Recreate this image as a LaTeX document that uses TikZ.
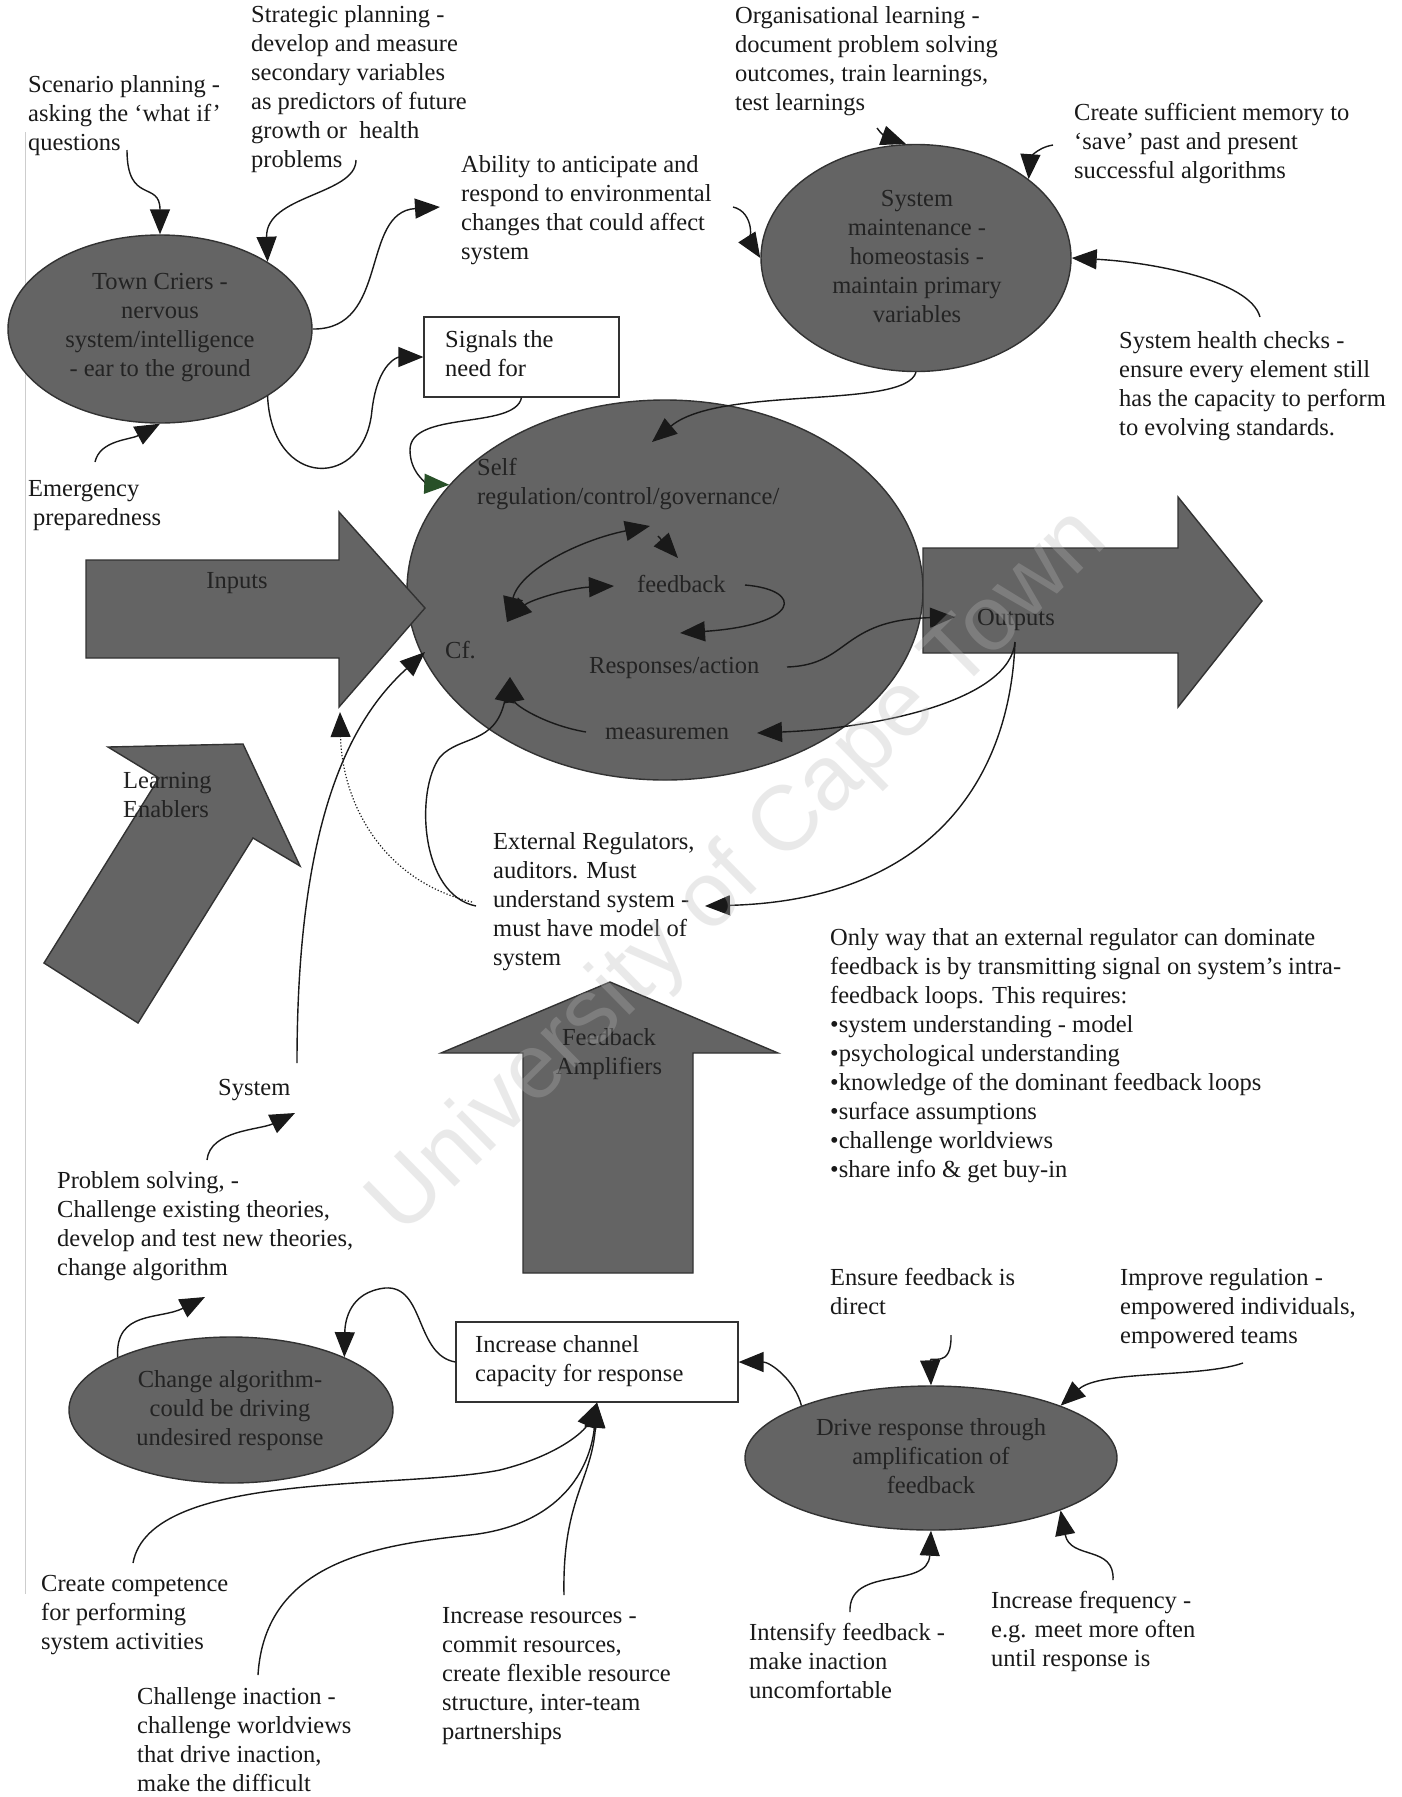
\documentclass[tikz,border=0pt]{standalone}
\usepackage{fontspec}
\setmainfont{Liberation Serif}
\newfontfamily\wmfont{Liberation Sans}
\usetikzlibrary{arrows.meta,shapes.geometric}

\definecolor{ink}{RGB}{25,25,25}
\definecolor{shade}{RGB}{100,100,100}
\definecolor{rim}{RGB}{50,50,50}
\definecolor{deep}{RGB}{35,35,35}
\definecolor{wm}{RGB}{185,185,185}
\definecolor{pageedge}{RGB}{205,205,205}
\definecolor{tipgreen}{RGB}{40,80,40}

\tikzset{
  txt/.style={anchor=north west, inner sep=0pt, align=left, text=ink,
    font=\fontsize{24.5}{29}\selectfont, execute at begin node=\strut},
  intxt/.style={anchor=north, inner sep=0pt, align=center, text=deep,
    font=\fontsize{24.5}{29}\selectfont, execute at begin node=\strut},
  blob/.style={ellipse, draw=rim, line width=1.4pt, fill=shade, inner sep=0pt},
  panel/.style={rectangle, draw=rim, line width=1.2pt, fill=white, inner sep=0pt},
  block/.style={draw=rim, line width=1.4pt, fill=shade, line join=miter},
  conn/.style={draw=ink, line width=1.4pt, -{Triangle[length=25pt,width=20pt]}},
  twoway/.style={draw=ink, line width=1.4pt, {Triangle[length=25pt,width=20pt]}-{Triangle[length=25pt,width=20pt]}},
}

\begin{document}
\begin{tikzpicture}[x=1pt, y=-1pt]
\useasboundingbox (0,0) rectangle (1402,1797);
\clip (0,0) rectangle (1402,1797);
\fill[white] (0,0) rectangle (1402,1797);

% faint page edge on the left
\draw[pageedge, line width=1pt] (25,132) -- (25,1594);

% ---------- shaded shapes ----------
\node[blob, minimum width=304pt, minimum height=188pt] (tc) at (160,329) {};
\node[blob, minimum width=310pt, minimum height=227pt] (sm) at (916,258) {};
\node[blob, minimum width=516pt, minimum height=380pt] (core) at (665,590) {};
\node[blob, minimum width=324pt, minimum height=146pt] (chg) at (231,1410) {};
\node[blob, minimum width=372pt, minimum height=144pt] (drv) at (931,1458) {};

% block arrows
\draw[block] (86,560) -- (339,560) -- (339,512) -- (425,608) -- (339,707) -- (339,658) -- (86,658) -- cycle;
\draw[block] (923,548) -- (1178,548) -- (1178,497) -- (1262,601) -- (1178,707) -- (1178,653) -- (923,653) -- cycle;
\draw[block] (108,747) -- (243,744) -- (300,866) -- (253,838) -- (138,1023) -- (44,963) -- (159,778) -- cycle;
\draw[block] (523,1273) -- (523,1053) -- (441,1053) -- (610,982) -- (778,1053) -- (693,1053) -- (693,1273) -- cycle;

% boxes
\node[panel, minimum width=195pt, minimum height=80pt] (sig) at (521.5,357) {};
\node[panel, minimum width=282pt, minimum height=80pt] (chan) at (597,1362) {};

% ---------- texts in shapes ----------
\node[intxt] (tct) at (160,273) {Town Criers -\\nervous\\system/intelligence\\- ear to the ground};
\node[intxt] (smt) at (917,190) {System\\maintenance -\\homeostasis -\\maintain primary\\variables};
\node[intxt] (chgt) at (230,1370) {Change algorithm-\\could be driving\\undesired response};
\node[intxt] (drvt) at (931,1418) {Drive response through\\amplification of\\feedback};
\node[intxt] (inp) at (237,568) {Inputs};
\node[txt, text=deep] (outp) at (977,605) {Outputs};
\node[txt, text=deep] (lrn) at (123,772) {Learning\\Enablers};
\node[intxt] (famp) at (609,1028) {Feedback\\Amplifiers};
\node[txt, text=deep] (selfreg) at (477,458) {Self\\regulation/control/governance/};
\node[txt, text=deep] (fb) at (637,572) {feedback};
\node[txt, text=deep] (cf) at (445,638) {Cf.};
\node[txt, text=deep] (resp) at (589,653) {Responses/action};
\node[txt, text=deep] (meas) at (605,719) {measuremen};

% ---------- free texts ----------
\node[txt] (scn) at (28,75) {Scenario planning -\\asking the ‘what if’\\questions};
\node[txt] (strat) at (251,5) {Strategic planning -\\develop and measure\\secondary variables\\as predictors of future\\growth or\ \ health\\problems};
\node[txt] (abil) at (461,155) {Ability to anticipate and\\respond to environmental\\changes that could affect\\system};
\node[txt] (org) at (735,6) {Organisational learning -\\document problem solving\\outcomes, train learnings,\\test learnings};
\node[txt] (mem) at (1074,103) {Create sufficient memory to\\‘save’ past and present\\successful algorithms};
\node[txt] (health) at (1119,331) {System health checks -\\ensure every element still\\has the capacity to perform\\to evolving standards.};
\node[txt] (emerg) at (28,480) {Emergency\\\hspace*{5pt}preparedness};
\node[txt] (sigt) at (445,330) {Signals the\\need for};
\node[txt] (ext) at (493,832) {External Regulators,\\auditors. Must\\understand system -\\must have model of\\system};
\node[txt] (only) at (830,928) {Only way that an external regulator can dominate\\feedback is by transmitting signal on system’s intra-\\feedback loops. This requires:\\•system understanding - model\\•psychological understanding\\•knowledge of the dominant feedback loops\\•surface assumptions\\•challenge worldviews\\•share info \& get buy-in};
\node[txt] (sys) at (218,1075) {System};
\node[txt] (prob) at (57,1171) {Problem solving, -\\Challenge existing theories,\\develop and test new theories,\\change algorithm};
\node[txt] (chant) at (475,1335) {Increase channel\\capacity for response};
\node[txt] (comp) at (41,1575) {Create competence\\for performing\\system activities};
\node[txt] (chall) at (137,1687) {Challenge inaction -\\challenge worldviews\\that drive inaction,\\make the difficult};
\node[txt] (res) at (442,1607) {Increase resources -\\commit resources,\\create flexible resource\\structure, inter-team\\partnerships};
\node[txt] (intens) at (749,1623) {Intensify feedback -\\make inaction\\uncomfortable};
\node[txt] (freq) at (991,1591) {Increase frequency -\\e.g. meet more often\\until response is};
\node[txt] (ensure) at (830,1268) {Ensure feedback is\\direct};
\node[txt] (impr) at (1120,1268) {Improve regulation -\\empowered individuals,\\empowered teams};

% ---------- connector end points ----------
\coordinate (scnA) at (127,150);
\coordinate (stratA) at (356,160);
\coordinate (abilA) at (440,207);
\coordinate (emergA) at (95,462);
\coordinate (orgA) at (877,128);
\coordinate (memA) at (1053,145);
\coordinate (abilB) at (733,207);
\coordinate (healthA) at (1260,317);
\coordinate (smIn) at (652,442);
\coordinate (cfA) at (507,622);
\coordinate (govA) at (650,526);
\coordinate (fbA) at (614,586);
\coordinate (govB) at (658,536);
\coordinate (fbB) at (678,558);
\coordinate (fbC) at (745,585);
\coordinate (respA) at (680,633);
\coordinate (respB) at (787,667);
\coordinate (outA) at (955,617);
\coordinate (outB) at (1015,642);
\coordinate (measA) at (757,733);
\coordinate (measB) at (586,732);
\coordinate (extA) at (705,906);
\coordinate (extB) at (476,906);
\coordinate (extC) at (472,902);
\coordinate (cfB) at (510,677);
\coordinate (inpA) at (340,712);
\coordinate (sysA) at (297,1063);
\coordinate (cfC) at (425,652);
\coordinate (probA) at (207,1160);
\coordinate (sysB) at (295,1113);
\coordinate (probB) at (205,1297);
\coordinate (ensureA) at (951,1335);
\coordinate (imprA) at (1243,1363);
\coordinate (intensA) at (850,1612);
\coordinate (freqA) at (1113,1580);
\coordinate (compA) at (133,1563);
\coordinate (challA) at (258,1675);
\coordinate (resA) at (564,1595);

% ---------- connectors ----------
\draw[conn] (scnA) .. controls (127,205) and (160,180) .. (tc.north);
\draw[conn] (stratA) .. controls (356,195) and (265,195) .. (tc.32);
\draw[conn] (tc.east) .. controls (390,330) and (360,212) .. (abilA);
\draw[conn] (tc.-32) .. controls (272,490) and (365,490) .. (372,410) .. controls (378,360) and (400,357) .. (sig.west);
\draw[conn] (emergA) .. controls (100,440) and (130,440) .. (tc.south);
\draw[draw=ink, line width=1.4pt, -{Triangle[length=25pt,width=20pt,color=tipgreen]}]
  (sig.south) .. controls (515,430) and (410,410) .. (410,450) .. controls (410,475) and (430,484) .. (core.154);
\draw[conn] (sm.south) .. controls (905,410) and (720,385) .. (smIn);
\draw[conn] (orgA) .. controls (885,140) and (895,140) .. (sm.95);
\draw[conn] (memA) .. controls (1035,148) and (1030,160) .. (sm.35);
\draw[conn] (abilB) .. controls (755,212) and (752,245) .. (sm.west);
\draw[conn] (healthA) .. controls (1250,280) and (1150,262) .. (sm.east);

% loops inside the regulation ellipse
\draw[twoway] (cfA) .. controls (520,570) and (580,540) .. (govA);
\draw[twoway] (cfA) .. controls (530,600) and (570,588) .. (fbA);
\draw[conn] (govB) -- (fbB);
\draw[conn] (fbC) .. controls (805,590) and (800,625) .. (respA);
\draw[conn] (respB) .. controls (850,665) and (840,620) .. (outA);
\draw[conn] (outB) .. controls (1010,700) and (880,728) .. (measA);
\draw[conn] (outB) .. controls (1010,780) and (930,900) .. (extA);
\draw[conn] (extB) .. controls (420,895) and (415,790) .. (440,757) .. controls (460,735) and (495,745) .. (cfB);
\draw[conn] (measB) .. controls (545,725) and (515,705) .. (cfB);
\draw[draw=ink, line width=1.2pt, dotted, -{Triangle[length=25pt,width=20pt]}]
  (extC) .. controls (380,880) and (342,800) .. (inpA);
\draw[conn] (sysA) .. controls (297,820) and (350,720) .. (cfC);
\draw[conn] (probA) .. controls (210,1130) and (260,1130) .. (sysB);

% lower part
\draw[conn] (chg.155) .. controls (115,1310) and (160,1320) .. (probB);
\draw[conn] (chan.west) .. controls (415,1355) and (425,1285) .. (385,1288) .. controls (350,1292) and (345,1320) .. (chg.25);
\draw[conn] (drv.158) .. controls (795,1380) and (770,1362) .. (chan.east);
\draw[conn] (ensureA) .. controls (952,1370) and (930,1355) .. (drv.north);
\draw[conn] (imprA) .. controls (1200,1378) and (1100,1370) .. (drv.22);
\draw[conn] (intensA) .. controls (848,1565) and (928,1590) .. (drv.south);
\draw[conn] (freqA) .. controls (1115,1545) and (1070,1560) .. (drv.-22);
\draw[conn] (compA) .. controls (150,1470) and (400,1490) .. (500,1470) .. controls (560,1455) and (585,1430) .. (chan.south);
\draw[conn] (challA) .. controls (265,1560) and (380,1545) .. (470,1535) .. controls (560,1525) and (590,1470) .. (chan.south);
\draw[conn] (resA) .. controls (562,1500) and (592,1480) .. (chan.south);

% watermark
\node[rotate=44.5, text=wm, opacity=0.3, inner sep=0pt,
  font=\wmfont\fontsize{92}{92}\selectfont] (mark) at (740,873) {University of Cape Town};
\end{tikzpicture}
\end{document}
